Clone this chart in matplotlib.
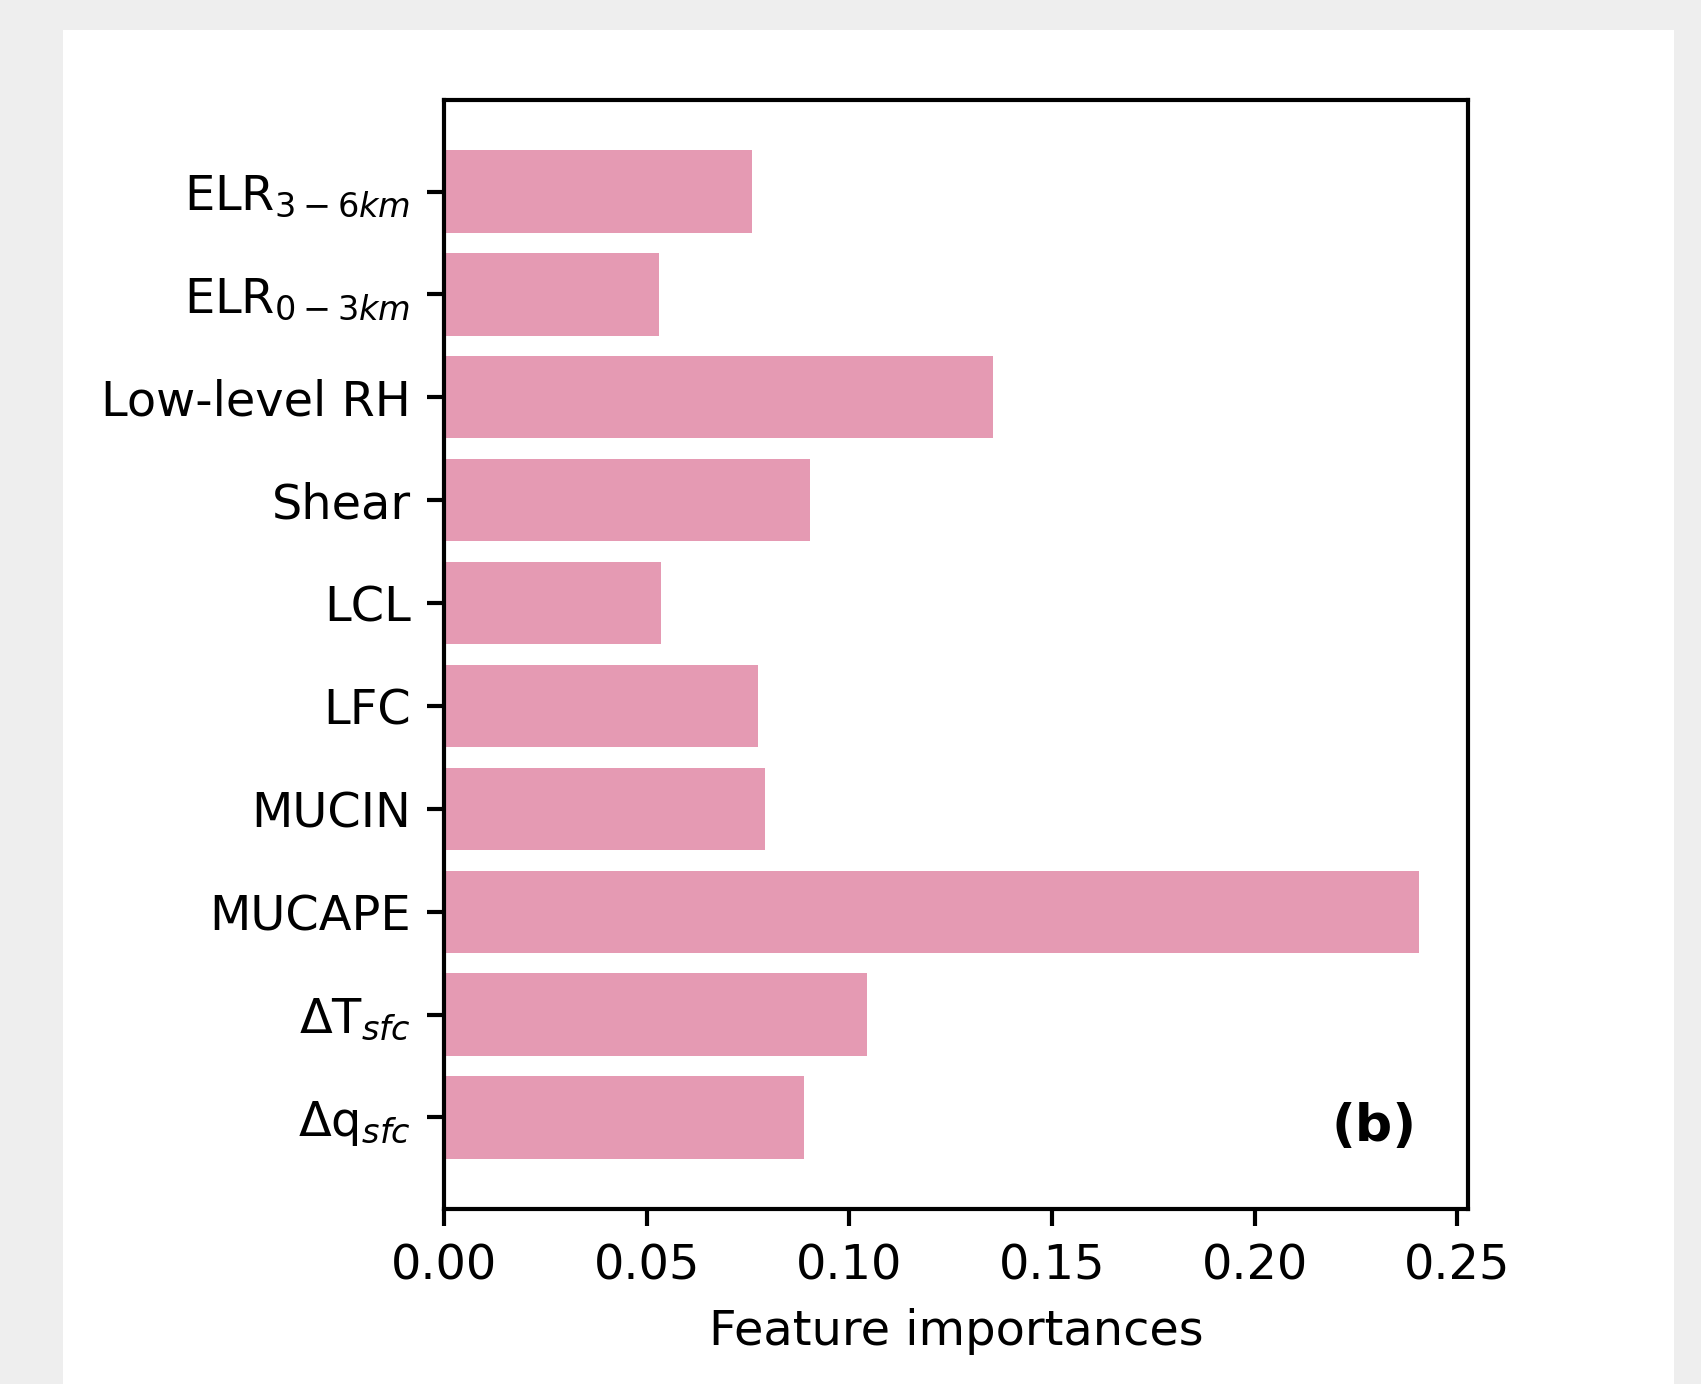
import matplotlib
matplotlib.use("Agg")
import matplotlib.pyplot as plt
from matplotlib.patches import Rectangle

features = [r'$\Delta$q$_{sfc}$', r'$\Delta$T$_{sfc}$', 'MUCAPE', 'MUCIN', 'LFC',
            'LCL', 'Shear', 'Low-level RH', r'ELR$_{0-3km}$', r'ELR$_{3-6km}$']
importances = [0.0888, 0.1043, 0.2406, 0.0791, 0.0775,
               0.0536, 0.0904, 0.1355, 0.0531, 0.0759]

W, H, dpi = 1702, 1384, 300
fig = plt.figure(figsize=(W / dpi, H / dpi), dpi=dpi, facecolor='#eeeeee')
# white page area inside the grey border
fig.add_artist(Rectangle((63 / W, 0), (1674 - 63) / W, 1 - 30 / H,
                         transform=fig.transFigure, facecolor='white',
                         edgecolor='none', zorder=-10))

ax = fig.add_axes([444 / W, 1 - 1209 / H, (1468 - 444) / W, (1209 - 100) / H])
ax.barh(range(len(features)), importances, color='palevioletred', alpha=0.7)
ax.set_yticks(range(len(features)))
ax.set_yticklabels(features, fontsize=11.5)
ax.tick_params(axis='x', labelsize=11.5, length=4, width=1, pad=4)
ax.tick_params(axis='y', length=4, width=1, pad=4.0)
for s in ax.spines.values():
    s.set_linewidth(1)
ax.set_xlabel('Feature importances', fontsize=11.5, labelpad=4.5)
ax.text(0.95, 0.074, '(b)', transform=ax.transAxes, ha='right', va='center',
        fontsize=12.5, fontweight='bold')

fig.savefig('out.png', dpi=dpi, facecolor=fig.get_facecolor())
